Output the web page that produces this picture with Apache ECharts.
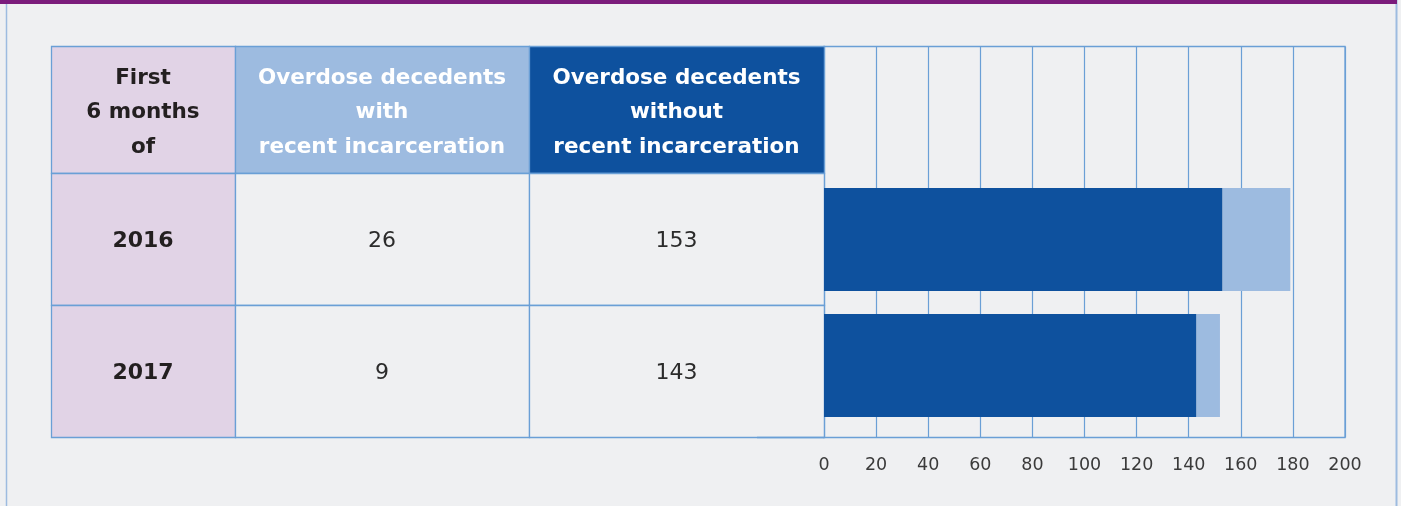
<!DOCTYPE html>
<html><head><meta charset="utf-8">
<script src="https://cdn.jsdelivr.net/npm/echarts@6/dist/echarts.min.js"></script>
<style>html,body{margin:0;padding:0;background:#eff0f2}#c{width:1401px;height:506px}</style>
</head><body><div id="c"></div>
<script>
// ---- data ----
const years = ['2016', '2017'];
const withIncarceration = [26, 9];
const withoutIncarceration = [153, 143];
const headerFirst = 'First\n6 months\nof';
const headerWith = 'Overdose decedents\nwith\nrecent incarceration';
const headerWithout = 'Overdose decedents\nwithout\nrecent incarceration';
const xMin = 0, xMax = 200, xInterval = 20;

// ---- styles ----
const FONT = "'DejaVu Sans', 'Noto Sans', sans-serif";
const BORDER = '#6a9fd6';
const PURPLE_LIGHT = '#e1d3e6';
const BLUE_LIGHT = '#9dbbe0';
const BLUE_DARK = '#0e519e';
const CELL_BG = '#eff0f2';

const colX = [51, 235, 529, 824];
const rowY = [46, 173, 305, 437];

const graphic = [];
// frame
graphic.push({ type: 'rect', shape: { x: 0, y: 0, width: 1397, height: 4 }, style: { fill: '#7b1c7c' }, z: 10 });
graphic.push({ type: 'line', shape: { x1: 6.5, y1: 0, x2: 6.5, y2: 506 }, style: { stroke: BLUE_LIGHT, lineWidth: 1.5 } });
graphic.push({ type: 'line', shape: { x1: 1396.5, y1: 0, x2: 1396.5, y2: 506 }, style: { stroke: BLUE_LIGHT, lineWidth: 2 } });

function cell(c, r, fill) {
  graphic.push({ type: 'rect', shape: { x: colX[c] + 0.5, y: rowY[r] + 0.5, width: colX[c + 1] - colX[c], height: rowY[r + 1] - rowY[r] },
    style: { fill: fill, stroke: BORDER, lineWidth: 1.3 } });
}
function txt(c, r, text, color, weight, size, lh, dy) {
  graphic.push({ type: 'text', z: 5,
    x: (colX[c] + colX[c + 1]) / 2, y: (rowY[r] + rowY[r + 1]) / 2 + (dy || 0),
    style: { text: text, fill: color, font: weight + ' ' + size + 'px ' + FONT, lineHeight: lh,
      textAlign: 'center', textVerticalAlign: 'middle', align: 'center', verticalAlign: 'middle' } });
}
// header
cell(0, 0, PURPLE_LIGHT); cell(1, 0, BLUE_LIGHT); cell(2, 0, BLUE_DARK);
txt(0, 0, headerFirst, '#231f20', 'bold', 21.5, 34.5, 3);
txt(1, 0, headerWith, '#ffffff', 'bold', 21.5, 34.5, 3);
txt(2, 0, headerWithout, '#ffffff', 'bold', 21.5, 34.5, 3);
// body
years.forEach((y, i) => {
  cell(0, i + 1, PURPLE_LIGHT); cell(1, i + 1, CELL_BG); cell(2, i + 1, CELL_BG);
  txt(0, i + 1, y, '#231f20', 'bold', 22, 26, 2);
  txt(1, i + 1, String(withIncarceration[i]), '#2b2b2b', 'normal', 22, 26, 2);
  txt(2, i + 1, String(withoutIncarceration[i]), '#2b2b2b', 'normal', 22, 26, 2);
});
graphic.push({ type: 'line', shape: { x1: 757, y1: 437.5, x2: 824, y2: 437.5 }, style: { stroke: BORDER, lineWidth: 1.3 } });

const chart = echarts.init(document.getElementById('c'));
chart.setOption({
  backgroundColor: '#eff0f2',
  animation: false,
  grid: [
    { left: 824, width: 521, top: 46.5, height: 391, show: true, borderColor: BORDER, borderWidth: 1.3, backgroundColor: 'transparent' },
    { left: 824, width: 521, top: 176.5, height: 252 }
  ],
  xAxis: [
    { gridIndex: 0, type: 'value', min: xMin, max: xMax, interval: xInterval,
      axisLine: { show: false }, axisTick: { show: false },
      splitLine: { show: true, lineStyle: { color: BORDER, width: 1.2 } },
      axisLabel: { margin: 19, color: '#3a3a3a', fontSize: 17.5, fontFamily: FONT, fontWeight: 'normal' } },
    { gridIndex: 1, type: 'value', min: xMin, max: xMax, interval: xInterval, show: false, splitLine: { show: false } }
  ],
  yAxis: [
    { gridIndex: 0, type: 'value', show: false, splitLine: { show: false } },
    { gridIndex: 1, type: 'category', data: years, inverse: true, show: false }
  ],
  series: [
    { name: 'Overdose decedents without recent incarceration', type: 'bar', stack: 't', xAxisIndex: 1, yAxisIndex: 1,
      data: withoutIncarceration, barWidth: 103, itemStyle: { color: BLUE_DARK } },
    { name: 'Overdose decedents with recent incarceration', type: 'bar', stack: 't', xAxisIndex: 1, yAxisIndex: 1,
      data: withIncarceration, barWidth: 103, itemStyle: { color: BLUE_LIGHT } }
  ],
  graphic: graphic
});
</script></body></html>
